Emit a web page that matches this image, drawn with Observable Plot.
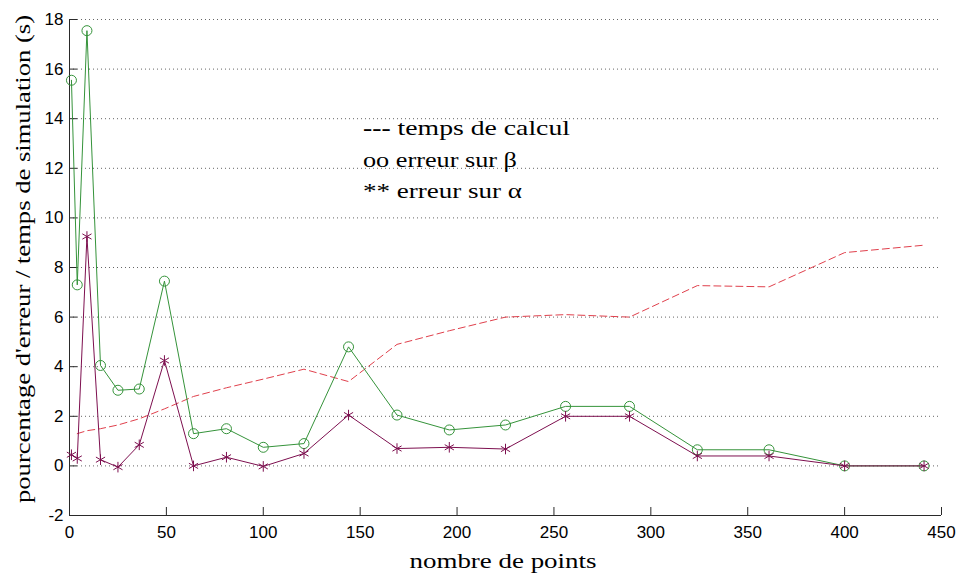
<!DOCTYPE html>
<html><head><meta charset="utf-8">
<script src="https://cdn.jsdelivr.net/npm/d3@7"></script>
<script src="https://cdn.jsdelivr.net/npm/@observablehq/plot@0.6"></script>
<style>
body{margin:0;background:#fff;}
#wrap{width:960px;height:579px;}
#wrap svg text{font-family:"Liberation Sans", Arial, sans-serif !important;}
#wrap svg text.serif{font-family:"Liberation Serif", "Times New Roman", serif !important; text-anchor:start;}
#wrap svg text.serif.mid{text-anchor:middle;}
</style></head><body><div id="wrap"></div>
<script>
// ---- data ----
const nPoints  = [1,4,9,16,25,36,49,64,81,100,121,144,169,196,225,256,289,324,361,400,441];
const errBeta  = [15.55,7.3,17.55,4.05,3.05,3.1,7.45,1.3,1.5,0.75,0.9,4.8,2.05,1.45,1.65,2.4,2.4,0.65,0.65,0,0];
const errAlpha = [0.45,0.3,9.25,0.25,-0.05,0.85,4.25,0.0,0.35,-0.02,0.5,2.05,0.7,0.75,0.68,2.0,2.0,0.4,0.4,0,0];
const timeX    = [4,9,16,25,36,49,64,81,100,121,144,169,196,225,256,289,324,361,400,441];
const timeCalc = [1.3,1.42,1.5,1.65,1.9,2.3,2.8,3.15,3.5,3.9,3.4,4.9,5.45,6.0,6.1,6.0,7.27,7.22,8.6,8.9];
const xTicks = [0,50,100,150,200,250,300,350,400,450];
const yTicks = [-2,0,2,4,6,8,10,12,14,16,18];
const xLabel = "nombre de points";
const yLabel = "pourcentage d'erreur / temps de simulation (s)";
const legendLines = [["---"," temps de calcul"],["oo"," erreur sur β"],["**"," erreur sur α"]];

// ---- build ----
const beta  = nPoints.map((x,i)=>({x, y: errBeta[i]}));
const alpha = nPoints.map((x,i)=>({x, y: errAlpha[i]}));
const time  = timeX.map((x,i)=>({x, y: timeCalc[i]}));

const W=960, H=579, mL=69, mR=19, mT=19, mB=64;
const pw = W-mL-mR, ph = H-mT-mB;
const green="#35933a", purple="#7d0f4f", red="#e0404c", axisC="#2a2a2a";

const chart = Plot.plot({
  width: W, height: H,
  marginLeft: mL, marginRight: mR, marginTop: mT, marginBottom: mB,
  x: {domain:[0,450]},
  y: {domain:[-2,18]},
  style: {fontSize:"17px", color:"#000", background:"#fff", overflow:"visible"},
  marks: [
    Plot.ruleY(yTicks.filter(d=>d>-2), {stroke:"#666", strokeDasharray:"1,3", strokeWidth:1}),
    Plot.axisX({ticks:xTicks, tickSize:0, tickPadding:10, label:null, tickFormat:d=>String(d)}),
    Plot.axisY({ticks:yTicks, tickSize:0, tickPadding:6, label:null, tickFormat:d=>String(d)}),
    Plot.tickX(xTicks, {stroke:axisC, insetTop: ph-8}),
    Plot.tickY(yTicks, {stroke:axisC, insetRight: pw-8}),
    Plot.ruleX([0], {stroke:axisC}),
    Plot.ruleY([-2], {stroke:axisC}),
    Plot.line(time, {x:"x", y:"y", stroke:red, strokeWidth:1, strokeDasharray:"7,4"}),
    Plot.line(beta, {x:"x", y:"y", stroke:green, strokeWidth:1}),
    Plot.dot(beta, {x:"x", y:"y", symbol:"circle", r:5, stroke:green, fill:"none", strokeWidth:1}),
    Plot.line(alpha, {x:"x", y:"y", stroke:purple, strokeWidth:1}),
    Plot.dot(alpha, {x:"x", y:"y", symbol:"asterisk", r:5, stroke:purple, strokeWidth:1})
  ]
});

const svg = d3.select(chart);
svg.append("text").attr("class","serif mid").attr("x", 503).attr("y", 568)
  .attr("font-size", 22).attr("fill","#000")
  .attr("textLength", 187).attr("lengthAdjust","spacingAndGlyphs").text(xLabel);
svg.append("text").attr("class","serif mid").attr("transform","rotate(-90)").attr("x", -259).attr("y", 30)
  .attr("font-size", 22).attr("fill","#000")
  .attr("textLength", 488).attr("lengthAdjust","spacingAndGlyphs").text(yLabel);

const legW = [207,154,159];
legendLines.forEach((ln,i)=>{
  const t = svg.append("text").attr("class","serif").attr("x", 363).attr("y", 135 + i*31.5)
    .attr("font-size", 21).attr("fill","#000")
    .attr("textLength", legW[i]).attr("lengthAdjust","spacingAndGlyphs");
  t.append("tspan").attr("font-weight", i===0 ? "bold" : "normal").text(ln[0]);
  t.append("tspan").text(ln[1]);
});

document.getElementById("wrap").appendChild(chart);
</script></body></html>
